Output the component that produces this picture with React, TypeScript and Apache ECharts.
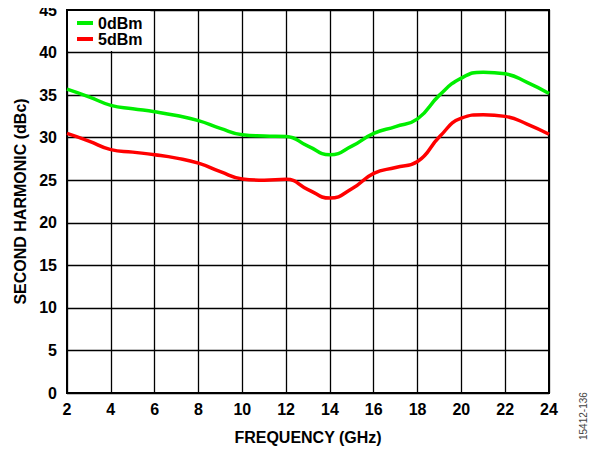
import React, { useEffect, useRef } from "react";
import * as echarts from "echarts";

const freqs = [2, 3, 4, 5, 6, 7, 8, 9, 10, 11, 12, 13, 14, 15, 16, 17, 18, 19, 20, 21, 22, 23, 24];
const green0dBm = [35.7, 34.8, 33.8, 33.4, 33.05, 32.6, 32.0, 31.1, 30.35, 30.2, 30.15, 29.0, 28.0, 29.0, 30.5, 31.3, 32.2, 35.0, 37.0, 37.7, 37.5, 36.5, 35.2];
const red5dBm = [30.5, 29.6, 28.6, 28.3, 28.0, 27.6, 27.0, 26.0, 25.15, 25.0, 25.1, 23.9, 22.9, 24.0, 25.8, 26.5, 27.2, 30.1, 32.3, 32.7, 32.5, 31.6, 30.4];
const seriesNames = ["0dBm", "5dBm"];

const FONT = "Liberation Sans, Arial, sans-serif";

export default function App() {
  const ref = useRef<HTMLDivElement>(null);
  useEffect(() => {
    if (!ref.current) return;
    const chart = echarts.init(ref.current, undefined, { renderer: "svg" });
    chart.setOption({
      animation: false,
      textStyle: { fontFamily: FONT },
      grid: {
        left: 67,
        right: 49,
        top: 10,
        bottom: 61,
        show: true,
        borderColor: "#000",
        borderWidth: 2,
        backgroundColor: "transparent",
      },
      legend: {
        orient: "vertical",
        left: 68,
        top: 11,
        padding: [4, 8, 4, 9],
        itemGap: 0,
        itemWidth: 16,
        itemHeight: 4,
        backgroundColor: "#fff",
        textStyle: { fontFamily: FONT, fontWeight: "bold", fontSize: 16, color: "#000", lineHeight: 16 },
        data: [
          { name: seriesNames[0], icon: "rect" },
          { name: seriesNames[1], icon: "rect" },
        ],
      },
      xAxis: {
        type: "value",
        min: 2,
        max: 24,
        interval: 2,
        name: "FREQUENCY (GHz)",
        nameLocation: "middle",
        nameGap: 36,
        nameTextStyle: { fontFamily: FONT, fontWeight: "bold", fontSize: 16, color: "#000" },
        axisLine: { show: true, lineStyle: { color: "#000", width: 2 } },
        axisTick: { show: false },
        axisLabel: { fontFamily: FONT, fontWeight: "bold", fontSize: 16, color: "#000", margin: 8 },
        splitLine: { show: true, lineStyle: { color: "#000", width: 1.3 } },
      },
      yAxis: {
        type: "value",
        min: 0,
        max: 45,
        interval: 5,
        name: "SECOND HARMONIC (dBc)",
        nameLocation: "middle",
        nameGap: 38,
        nameTextStyle: { fontFamily: FONT, fontWeight: "bold", fontSize: 16, color: "#000" },
        axisLine: { show: true, lineStyle: { color: "#000", width: 2 } },
        axisTick: { show: false },
        axisLabel: { fontFamily: FONT, fontWeight: "bold", fontSize: 16, color: "#000", margin: 10 },
        splitLine: { show: true, lineStyle: { color: "#000", width: 1.3 } },
      },
      series: [
        {
          name: seriesNames[0],
          type: "line",
          smooth: 0.5,
          symbol: "none",
          color: "#00ee00",
          lineStyle: { width: 3.5, color: "#00ee00" },
          data: freqs.map((f, i) => [f, green0dBm[i]]),
          z: 5,
        },
        {
          name: seriesNames[1],
          type: "line",
          smooth: 0.5,
          symbol: "none",
          color: "#ff0000",
          lineStyle: { width: 3.5, color: "#ff0000" },
          data: freqs.map((f, i) => [f, red5dBm[i]]),
          z: 5,
        },
      ],
      graphic: [
        {
          type: "text",
          x: 578,
          y: 440,
          rotation: Math.PI / 2,
          style: {
            text: "15412-136",
            fill: "#444",
            font: "10px " + FONT,
            textAlign: "left",
            textVerticalAlign: "top",
          },
        },
      ],
    });
    return () => chart.dispose();
  }, []);
  return <div ref={ref} style={{ width: 598, height: 454, margin: -8 }} />;
}
